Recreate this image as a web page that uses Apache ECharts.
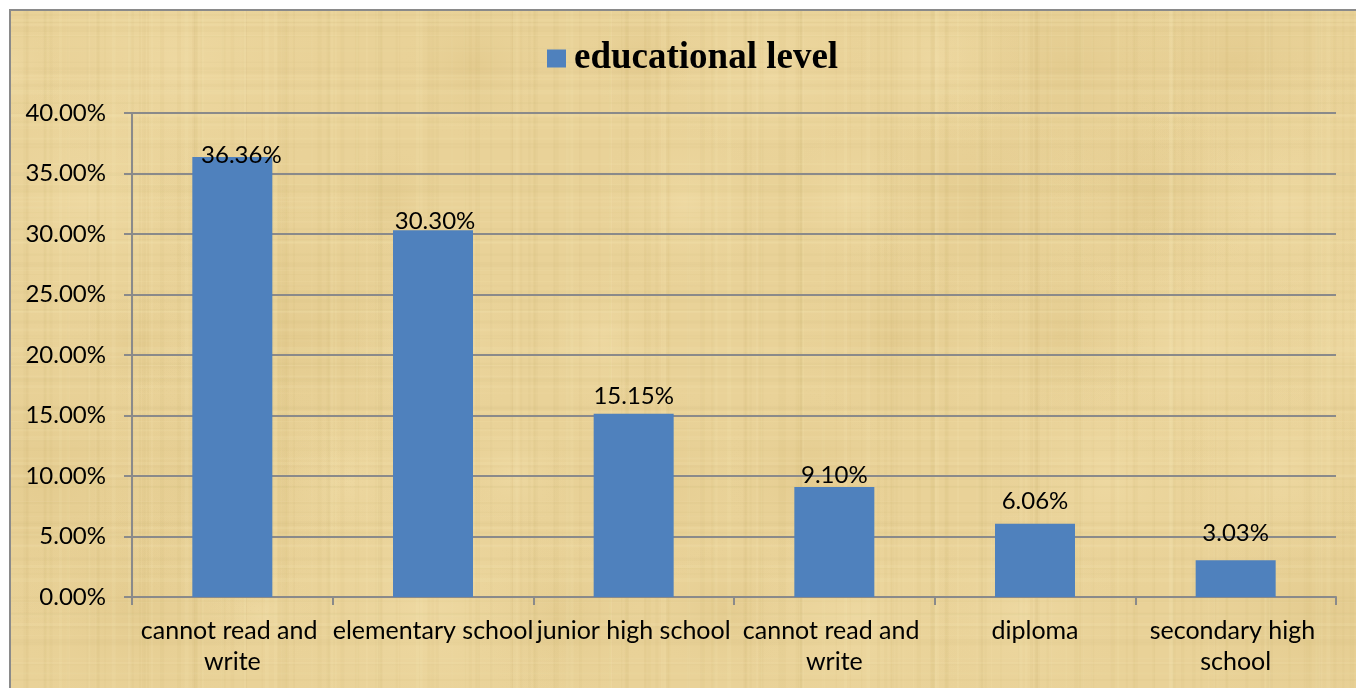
<!DOCTYPE html>
<html>
<head>
<meta charset="utf-8">
<script src="https://cdn.jsdelivr.net/npm/echarts@6/dist/echarts.min.js"></script>
<style>
html,body{margin:0;padding:0;background:#fff;}
#chart{width:1356px;height:688px;}
</style>
</head>
<body>
<div id="chart"></div>
<script>
const categories = ['cannot read and write', 'elementary school', 'junior high school', 'cannot read and write', 'diploma', 'secondary high school'];
const values = [36.36, 30.30, 15.15, 9.10, 6.06, 3.03];
const labels = ['36.36%', '30.30%', '15.15%', '9.10%', '6.06%', '3.03%'];
const seriesName = 'educational level';
const yMin = 0, yMax = 40, yInterval = 5;

// label placement tweaks (layout only): lift above bar top, horizontal shift
const labelLift = [2, 9, 17, 12, 22, 27];
const labelShift = [9, 2, 0, 0, 0, 0];

// decorative papyrus-like texture (deterministic)
function makeTexture() {
  const c = document.createElement('canvas');
  c.width = 1356; c.height = 688;
  const g = c.getContext('2d');
  g.fillStyle = '#e9d298';
  g.fillRect(0, 0, c.width, c.height);
  for (let k = 0; k < 40; k++) {
    const cx = (k * 211.7) % 1356;
    const cy = (k * 137.3 + 60) % 688;
    const r = 60 + (k % 7) * 18;
    const grd = g.createRadialGradient(cx, cy, 0, cx, cy, r);
    const light = k % 2 === 0;
    grd.addColorStop(0, light ? 'rgba(246,228,178,0.35)' : 'rgba(205,175,105,0.18)');
    grd.addColorStop(1, 'rgba(233,210,152,0)');
    g.fillStyle = grd;
    g.fillRect(cx - r, cy - r, 2 * r, 2 * r);
  }
  for (let i = 0; i < 220; i++) {
    const x = (i * 97.3 + Math.sin(i * 1.7) * 40) % 1356;
    const w = 1 + (i % 4);
    const light = (i % 3 === 0);
    g.fillStyle = light ? 'rgba(248,232,185,0.14)' : 'rgba(195,165,95,0.07)';
    g.fillRect(x, 0, w, 688);
  }
  for (let j = 0; j < 140; j++) {
    const y = (j * 53.7 + Math.cos(j * 2.3) * 25) % 688;
    const h = 1 + (j % 3);
    const light = (j % 2 === 0);
    g.fillStyle = light ? 'rgba(248,232,185,0.14)' : 'rgba(195,165,95,0.06)';
    g.fillRect(0, y, 1356, h);
  }
  return c;
}

const chart = echarts.init(document.getElementById('chart'), null, {renderer: 'canvas'});
const font = 'Lato, Carlito, Calibri, sans-serif';

chart.setOption({
  animation: false,
  backgroundColor: '#ffffff',
  graphic: [{
    type: 'image',
    silent: true,
    z: -10,
    style: { image: makeTexture(), x: 10, y: 10, width: 1356, height: 688 }
  }, {
    type: 'rect',
    silent: true,
    z: -9,
    shape: { x: 10, y: 10, width: 1360, height: 700 },
    style: { fill: 'none', stroke: '#8a8a8a', lineWidth: 2 }
  }],
  legend: {
    data: [seriesName],
    left: 547,
    top: 40,
    padding: 0,
    icon: 'rect',
    itemWidth: 19,
    itemHeight: 18,
    itemGap: 10,
    textStyle: {
      fontFamily: '"Liberation Serif", "Times New Roman", serif',
      fontWeight: 'bold',
      fontSize: 37,
      color: '#000',
      padding: [0, 0, 0, 3]
    }
  },
  grid: { left: 132, right: 20, top: 113, bottom: 91, containLabel: false },
  xAxis: {
    type: 'category',
    data: categories,
    axisLine: { show: true, lineStyle: { color: '#8a8a8a', width: 2 } },
    axisTick: { show: true, length: 8, alignWithLabel: false, lineStyle: { color: '#8a8a8a', width: 2 } },
    axisLabel: {
      interval: 0,
      hideOverlap: false,
      color: '#000',
      fontFamily: font,
      fontSize: 25,
      lineHeight: 31,
      margin: 18,
      width: 214,
      overflow: 'break'
    },
    splitLine: { show: false }
  },
  yAxis: {
    type: 'value',
    min: yMin,
    max: yMax,
    interval: yInterval,
    axisLine: { show: true, lineStyle: { color: '#8a8a8a', width: 2 } },
    axisTick: { show: true, length: 8, lineStyle: { color: '#8a8a8a', width: 2 } },
    axisLabel: {
      color: '#000',
      fontFamily: font,
      fontSize: 24,
      margin: 26,
      formatter: v => v.toFixed(2) + '%'
    },
    splitLine: { show: true, lineStyle: { color: '#8a8a8a', width: 2 } }
  },
  series: [{
    name: seriesName,
    type: 'bar',
    barWidth: 80,
    itemStyle: { color: '#4f81bd' },
    data: values.map((v, i) => ({
      value: v,
      label: {
        show: true,
        position: 'top',
        distance: 0,
        offset: [labelShift[i], 12 - labelLift[i]],
        formatter: labels[i],
        color: '#000',
        fontFamily: font,
        fontSize: 24
      }
    }))
  }]
});
</script>
</body>
</html>
